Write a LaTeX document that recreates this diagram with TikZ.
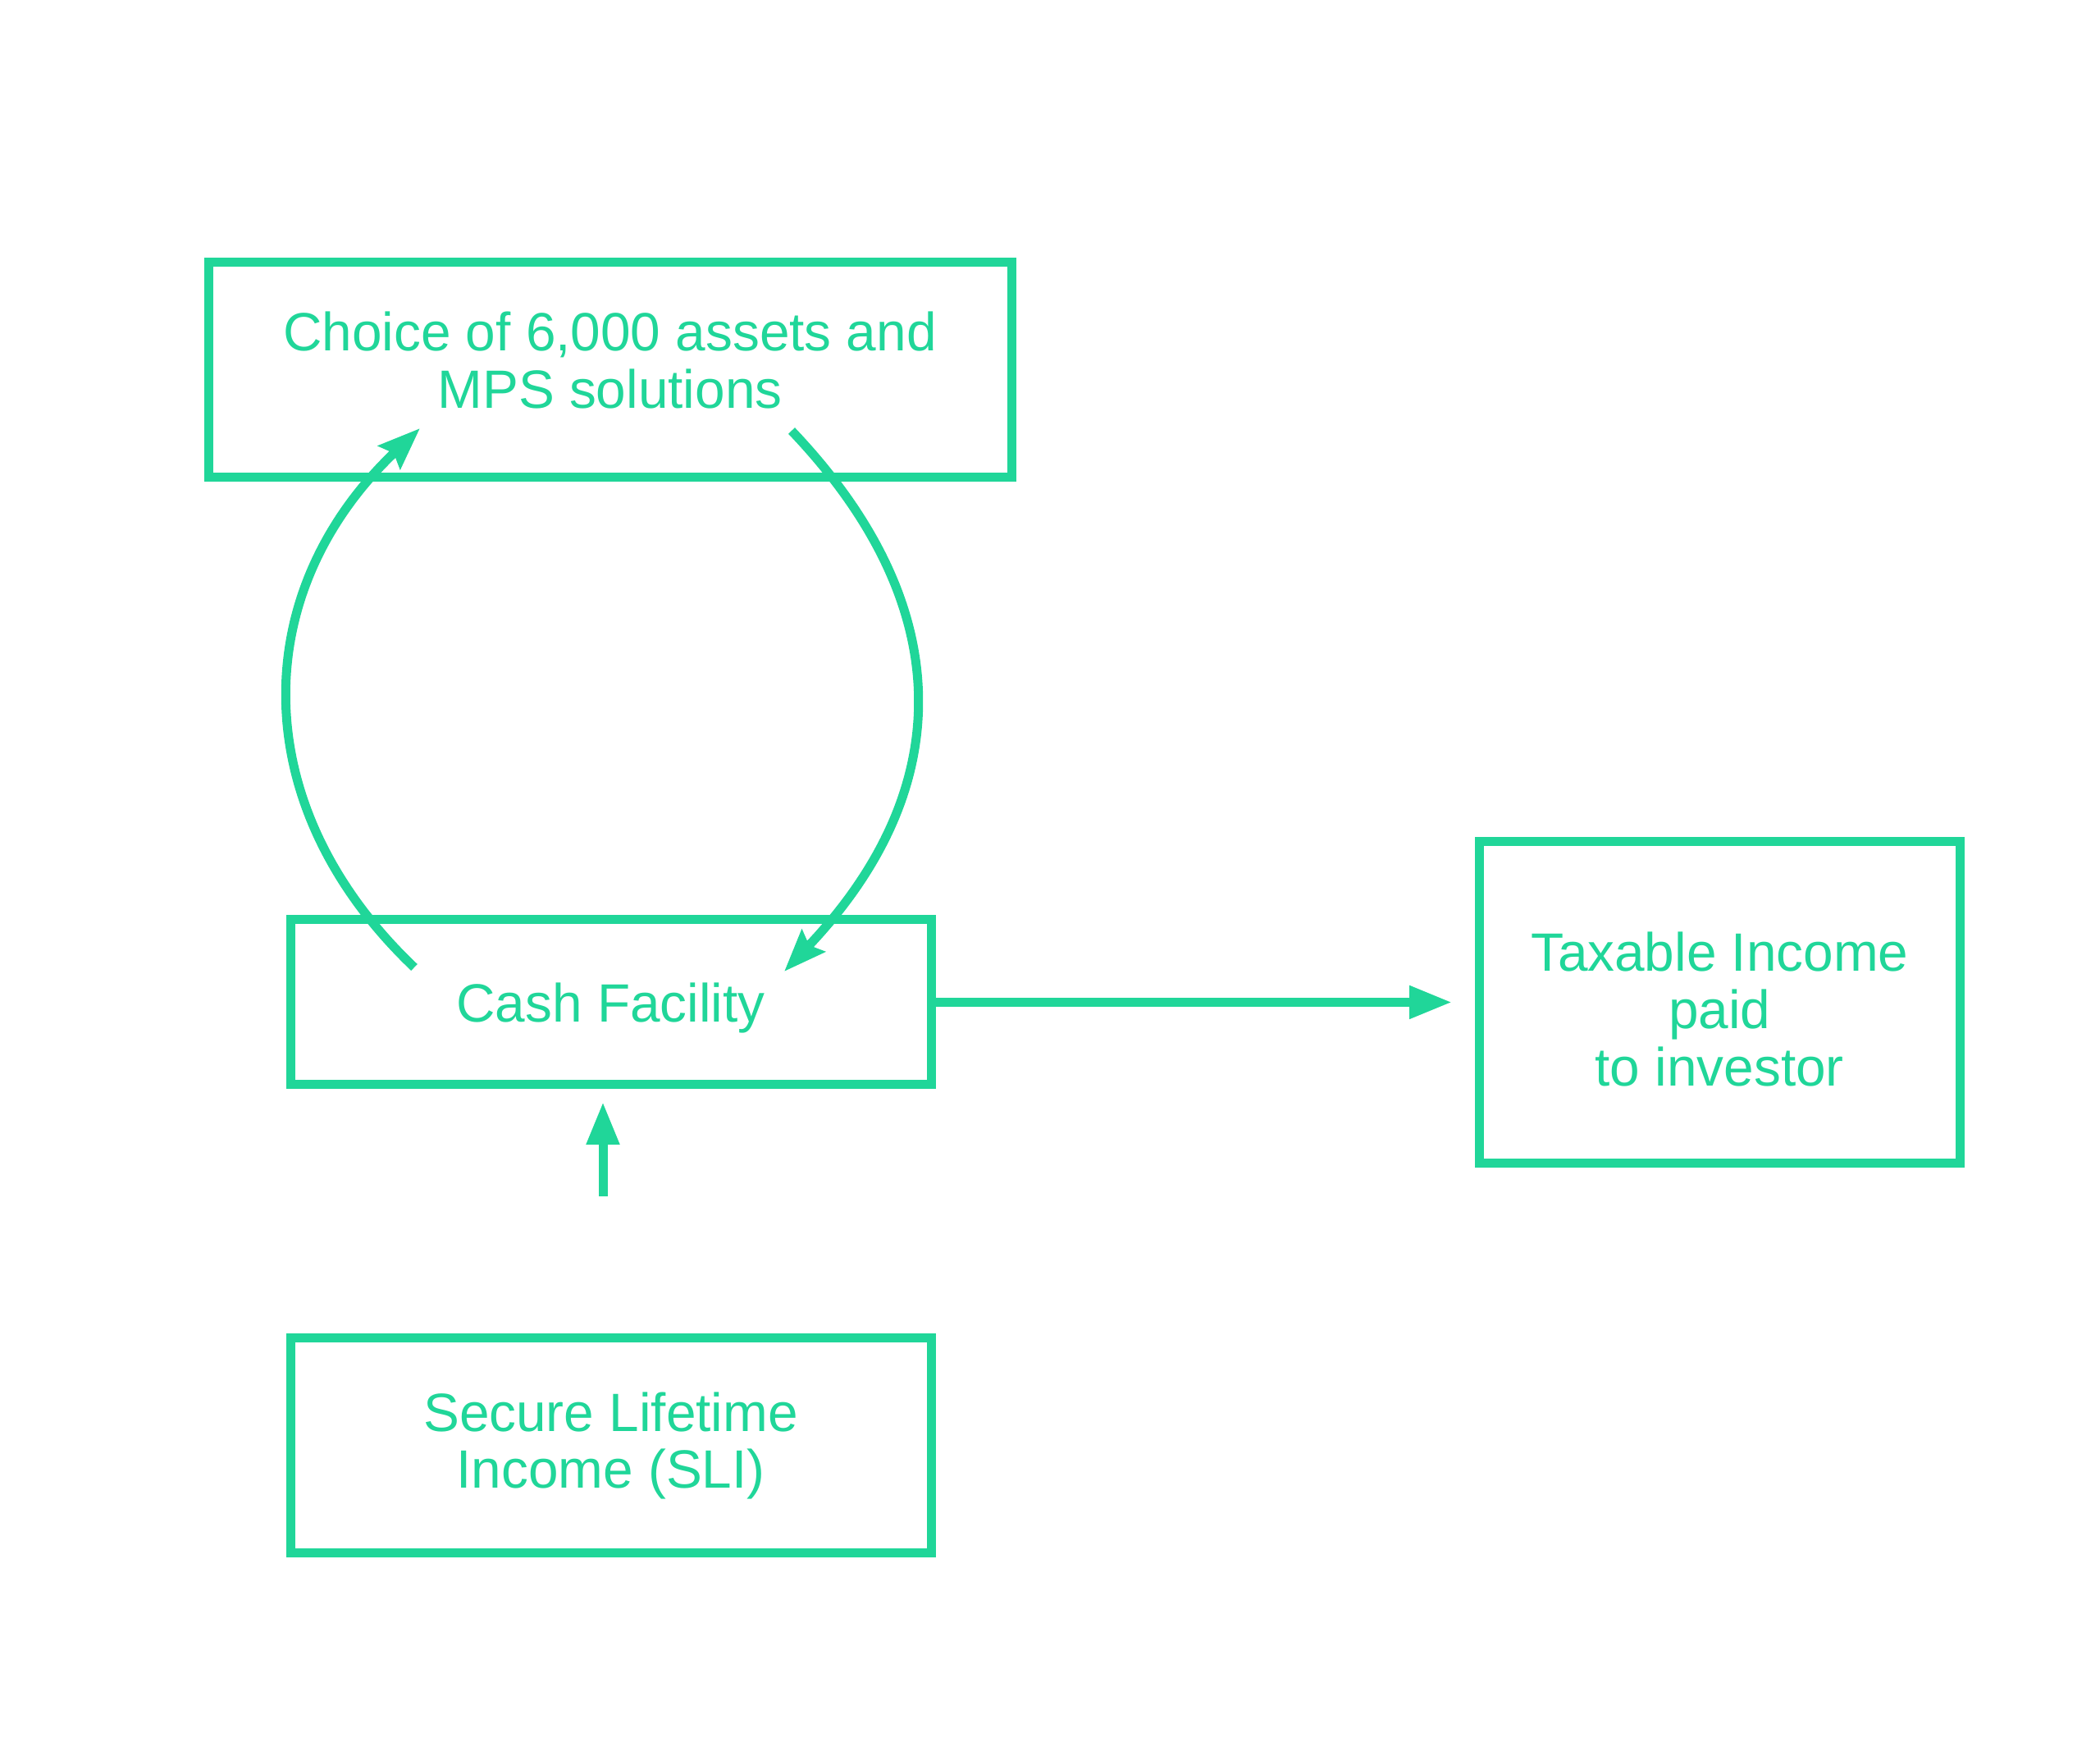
\documentclass[tikz,border=0pt]{standalone}
\usepackage{fontspec}
\setmainfont{Liberation Sans}
\usetikzlibrary{arrows.meta}
\definecolor{mint}{RGB}{32,214,153}
\tikzset{
  box/.style={draw=mint, line width=0.11cm, text=mint, align=center,
    font=\fontsize{18.7}{19.9}\selectfont, inner sep=0pt},
  flow/.style={draw=mint, line width=0.11cm, -{Triangle[length=0.52cm, width=0.38cm]}},
  roundtrip/.style={draw=mint, line width=0.11cm, -{Stealth[length=0.51cm, width=0.38cm, inset=0.07cm]}},
}
\begin{document}
\begin{tikzpicture}
  \useasboundingbox (0, 0) rectangle (25.6, 21.23);
  \node[box, minimum width=9.79cm, minimum height=2.62cm, text depth=0.24cm] (choice) at (7.435, 16.72) {Choice of 6,000 assets and\\MPS solutions};
  \node[box, minimum width=7.81cm, minimum height=2.01cm, text depth=0pt] (cash) at (7.445, 9.015) {Cash Facility};
  \node[box, minimum width=7.81cm, minimum height=2.62cm] (sli) at (7.445, 3.61) {Secure Lifetime\\Income (SLI)};
  \node[box, minimum width=5.855cm, minimum height=3.92cm, text height=2.04cm] (taxable) at (20.9625, 9.015) {Taxable Income\\paid\\to investor};

  \draw[flow, shorten >=0.28cm] (cash.east) -- (taxable.west);
  \draw[flow, shorten <=1.675cm, shorten >=0.155cm] ([xshift=-0.095cm]sli.north) -- ([xshift=-0.095cm]cash.south);
  % cash out to the assets and back
  \draw[roundtrip] ([shift={(-2.395,-0.635)}]cash.north) .. controls +(-2.05,1.95) and +(-2.12,-2.01) .. ([shift={(-2.315,0.655)}]choice.south);
  \draw[roundtrip] ([shift={(2.215,0.625)}]choice.south) .. controls +(2.03,-2.13) and +(2.12,2.23) .. ([shift={(2.115,-0.685)}]cash.north);
\end{tikzpicture}
\end{document}
